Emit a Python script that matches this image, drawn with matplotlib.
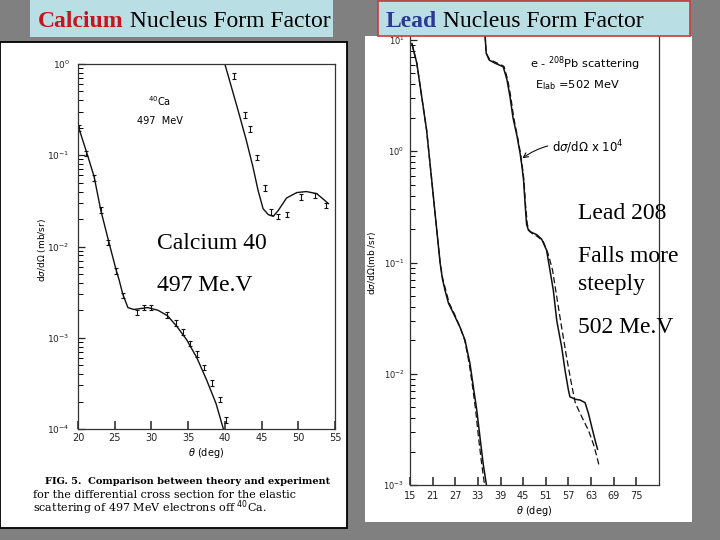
"""Calcium and lead nucleus form factor slide, redrawn with matplotlib."""
import matplotlib
matplotlib.use("Agg")
import matplotlib.pyplot as plt
from matplotlib.patches import Rectangle
from matplotlib.ticker import LogLocator, NullFormatter

W, H = 720, 540
SERIF = "Liberation Serif"
SCAN_SANS = "DejaVu Sans"
SCAN_SERIF = "DejaVu Serif"

# 40Ca, 497 MeV: dsigma/dOmega (mb/sr) vs theta (deg); the high branch is scaled up
ca_low_theory_deg = [20.1, 21.3, 22.2, 23.1, 24.2, 25.2, 25.6, 26.1, 26.8, 27.6,
                     29.5, 30.9, 32.2, 33.5, 34.8, 36.2, 37.5, 38.8, 39.8]
ca_low_theory = [0.20, 0.10, 0.058, 0.025, 0.0112, 0.0055, 0.0043, 0.0030, 0.00214, 0.00204,
                 0.00214, 0.0020, 0.00174, 0.00132, 0.00095, 0.00060, 0.000347, 0.00019, 0.0001]
ca_low_data_deg = [20.1, 21.1, 22.2, 23.1, 24.1, 25.2, 26.1, 28.0, 29.0, 30.0,
                   32.1, 33.3, 34.3, 35.3, 36.2, 37.2, 38.3, 39.3, 40.2]
ca_low_data = [0.20, 0.105, 0.056, 0.025, 0.011, 0.0054, 0.0029, 0.0019, 0.00214, 0.00214,
               0.00178, 0.00145, 0.00115, 0.00087, 0.00066, 0.00047, 0.00032, 0.00021, 0.000126]
ca_high_theory_deg = [40.0, 41.8, 42.9, 43.8, 44.5, 45.2, 45.9, 46.6, 47.3, 48.4,
                      49.8, 51.1, 52.5, 53.6, 54.1]
ca_high_theory = [1.0, 0.31, 0.148, 0.076, 0.042, 0.026, 0.0224, 0.0214, 0.025, 0.034,
                  0.039, 0.040, 0.038, 0.032, 0.0295]
ca_high_data_deg = [41.2, 42.7, 43.4, 44.4, 45.4, 46.3, 47.2, 48.5, 50.4, 52.3, 53.8]
ca_high_data = [0.74, 0.275, 0.195, 0.095, 0.044, 0.024, 0.0214, 0.0224, 0.035, 0.036, 0.028]

# 208Pb, 502 MeV: solid and dashed calculations; the high branch is x 10^4
pb_low_deg = [15.5, 16.8, 18.1, 19.4, 20.3, 21.2, 22.1, 23.0, 23.6, 24.3,
              25.2, 26.5, 28.3, 29.6, 30.9, 31.8, 32.7, 33.6, 34.4, 35.3]
pb_low = [9.3, 6.2, 3.1, 1.55, 0.78, 0.39, 0.195, 0.098, 0.071, 0.056,
          0.043, 0.035, 0.026, 0.020, 0.0123, 0.0076, 0.0047, 0.0026, 0.00155, 0.00098]
pb_low_dash_deg = [15.5, 16.8, 18.1, 19.4, 20.3, 21.2, 22.1, 23.0, 23.7, 24.5,
                   25.4, 26.7, 28.3, 29.5, 30.7, 31.6, 32.4, 33.2, 34.0, 34.8]
pb_low_dash = pb_low
pb_high_deg = [34.9, 35.2, 36.0, 37.5, 39.7, 40.7, 41.5, 42.3, 43.4, 44.2, 44.7,
               45.1, 45.5, 45.9, 46.4, 47.3, 48.6, 49.9, 51.2, 52.1, 53.0, 53.9,
               55.2, 56.1, 57.0, 57.4, 58.8, 60.1, 61.4, 62.3, 63.2, 64.1, 64.7]
pb_high = [11.0, 7.6, 6.6, 6.2, 5.75, 4.4, 3.1, 2.0, 1.35, 0.95, 0.72,
           0.55, 0.34, 0.22, 0.195, 0.186, 0.178, 0.162, 0.129, 0.085, 0.056, 0.030,
           0.0174, 0.0107, 0.0071, 0.0062, 0.0059, 0.0058, 0.0055, 0.0044, 0.0033, 0.0025, 0.0021]
pb_high_dash_deg = [34.9, 35.2, 36.1, 37.7, 39.9, 40.9, 41.7, 42.5, 43.5, 44.3, 44.8,
                    45.2, 45.6, 46.1, 46.7, 47.6, 48.9, 50.3, 51.6, 52.8, 53.9,
                    55.2, 56.5, 57.8, 58.8, 59.7, 61.0, 62.3, 63.6, 64.5, 65.2]
pb_high_dash = [11.0, 7.6, 6.7, 6.3, 5.8, 4.4, 3.1, 2.0, 1.35, 0.95, 0.72,
                0.55, 0.34, 0.22, 0.19, 0.18, 0.17, 0.155, 0.12, 0.085, 0.049,
                0.026, 0.0141, 0.0081, 0.0055, 0.0047, 0.0038, 0.0031, 0.00234, 0.00182, 0.00145]

ca_xticks = [20, 25, 30, 35, 40, 45, 50, 55]
pb_xticks = [15, 21, 27, 33, 39, 45, 51, 57, 63, 69, 75]


def frac(x0, y0, x1, y1):
    """Pixel box (top-left origin) to a figure-fraction rect."""
    return [x0 / W, 1 - y1 / H, (x1 - x0) / W, (y1 - y0) / H]


def style_log_axes(ax, xticks, xpad, ypad, ysize):
    ax.set_yscale("log")
    ax.set_xticks(xticks)
    ax.yaxis.set_minor_locator(LogLocator(base=10, subs=range(2, 10)))
    ax.yaxis.set_minor_formatter(NullFormatter())
    ax.tick_params(axis="x", direction="in", length=6, width=1.1, labelsize=7,
                   pad=xpad, colors="#222")
    ax.tick_params(axis="y", which="major", direction="in", length=5, width=0.9,
                   labelsize=ysize, pad=ypad, colors="#222")
    ax.tick_params(axis="y", which="minor", direction="in", length=3.5, width=0.7)
    ax.set_facecolor("none")
    for s in ax.spines.values():
        s.set_linewidth(0.9)
        s.set_color("#333")


fig = plt.figure(figsize=(7.2, 5.4), dpi=100, facecolor="#808080")

bg = fig.add_axes([0, 0, 1, 1], zorder=-1)
bg.set_xlim(0, W)
bg.set_ylim(H, 0)
bg.axis("off")
bg.add_patch(Rectangle((0, 42), 347, 486, facecolor="white", edgecolor="black", lw=1.3))
bg.add_patch(Rectangle((365, 36), 327, 486, facecolor="white", edgecolor="none"))

# --- calcium panel
ax = fig.add_axes(frac(78, 64, 335, 429), zorder=1)
style_log_axes(ax, ca_xticks, xpad=3, ypad=6, ysize=6.5)
ax.set_xlim(20, 55)
ax.set_ylim(1e-4, 1)
ax.plot(ca_low_theory_deg, ca_low_theory, color="#111", lw=1.0)
ax.plot(ca_high_theory_deg, ca_high_theory, color="#111", lw=1.0)
for deg, val in ((ca_low_data_deg, ca_low_data), (ca_high_data_deg, ca_high_data)):
    lo = [v - v / 10 ** 0.03 for v in val]
    hi = [v * 10 ** 0.03 - v for v in val]
    ax.errorbar(deg, val, yerr=[lo, hi], fmt="none", ecolor="#111",
                elinewidth=0.8, capsize=1.6, capthick=0.8)
ax.set_xlabel(r"$\theta$ (deg)", fontsize=7, labelpad=2)

# --- lead panel
ax2 = fig.add_axes(frac(410, 35.4, 659, 485), zorder=1)
style_log_axes(ax2, pb_xticks, xpad=4.5, ypad=4, ysize=6)
ax2.set_xlim(15, 81)
ax2.set_ylim(1e-3, 11)
ax2.spines["top"].set_visible(False)
ax2.plot(pb_low_deg, pb_low, color="#111", lw=1.1)
ax2.plot(pb_low_dash_deg, pb_low_dash, color="#111", lw=0.9, ls=(0, (5, 2.5)))
ax2.plot(pb_high_deg, pb_high, color="#111", lw=1.1)
ax2.plot(pb_high_dash_deg, pb_high_dash, color="#111", lw=0.9, ls=(0, (5, 2.5)))
ax2.set_xlabel(r"$\theta$ (deg)", fontsize=7, labelpad=2)
ax2.annotate(r"d$\sigma$/d$\Omega$ x 10$^4$", xy=(44.5, 0.85), xytext=(52.6, 1.09),
             fontsize=8.5, va="center", ha="left", family=SCAN_SANS,
             arrowprops=dict(arrowstyle="->", lw=0.8, color="#111",
                             connectionstyle="arc3,rad=0.25", shrinkA=1, shrinkB=1))

# --- overlay: scan labels, slide titles and slide text
ov = fig.add_axes([0, 0, 1, 1], zorder=5)
ov.set_xlim(0, W)
ov.set_ylim(H, 0)
ov.axis("off")

ov.text(42, 250, r"d$\sigma$/d$\Omega$ (mb/sr)", rotation=90, fontsize=6.5,
        ha="center", va="center", family=SCAN_SANS)
ov.text(372, 263, r"d$\sigma$/d$\Omega$(mb /sr)", rotation=90, fontsize=6.5,
        ha="center", va="center", family=SCAN_SANS)
ov.text(160, 106, r"$^{40}$Ca", fontsize=7, ha="center", va="baseline", family=SCAN_SANS)
ov.text(160, 123.5, "497  MeV", fontsize=7, ha="center", va="baseline", family=SCAN_SANS)
ov.text(585, 68, r"e - $^{208}$Pb scattering", fontsize=8.2, ha="center",
        va="baseline", family=SCAN_SANS)
ov.text(577, 88, r"E$_{\rm lab}$ =502 MeV", fontsize=8.2, ha="center",
        va="baseline", family=SCAN_SANS)

caption = ["for the differential cross section for the elastic",
           r"scattering of 497 MeV electrons off $^{40}$Ca."]
ov.text(45, 484, "FIG. 5.  Comparison between theory and experiment", fontsize=7.05,
        fontweight="bold", va="baseline", family=SCAN_SERIF)
for i, line in enumerate(caption):
    ov.text(33, 497.5 + 14.5 * i, line, fontsize=8, va="baseline", family=SCAN_SERIF)

# slide titles
ov.add_patch(Rectangle((30, 0), 303, 37, facecolor="#b9dee4", edgecolor="none", zorder=5))
ov.add_patch(Rectangle((378, 0.5), 312, 35.5, facecolor="#b9dee4", edgecolor="#c83c3c",
                       lw=1.2, zorder=5))
for x, word, color in ((38, "Calcium", "#c8141e"), (386, "Lead", "#2b3990")):
    t = ov.text(x, 27, word, color=color, fontweight="bold", fontsize=17,
                family=SERIF, va="baseline", zorder=6)
    ov.annotate(" Nucleus Form Factor", xy=(1, 0), xycoords=t, va="bottom",
                ha="left", fontsize=17, family=SERIF, zorder=6)

for x, y, s in ((157, 249, "Calcium 40"), (157, 291, "497 Me.V"),
                (578, 219, "Lead 208"), (578, 262, "Falls more"),
                (578, 290, "steeply"), (578, 333, "502 Me.V")):
    ov.text(x, y, s, fontsize=17, family=SERIF, va="baseline", zorder=6)

fig.savefig("out.png", dpi=100, facecolor=fig.get_facecolor())
